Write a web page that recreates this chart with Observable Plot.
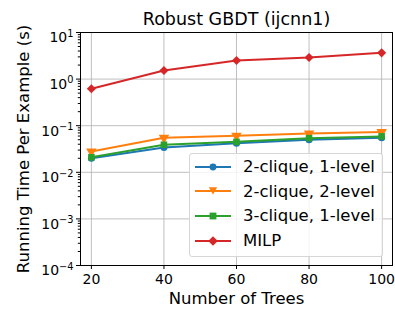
<!DOCTYPE html>
<html>
<head>
<meta charset="utf-8">
<script src="https://cdn.jsdelivr.net/npm/d3@7"></script>
<script src="https://cdn.jsdelivr.net/npm/@observablehq/plot@0.6"></script>
<style>
  body { margin: 0; background: #fff; }
  #wrap { position: relative; width: 395px; height: 310px; font-family: "DejaVu Sans", sans-serif; }
  #legend { position: absolute; left: 189px; top: 153px; width: 194px; height: 104px;
    background: rgba(255,255,255,0.8); border: 1px solid #d6d6d6; border-radius: 3px; box-sizing: border-box; }
  .row { position: absolute; left: 0; height: 20px; display: flex; align-items: center; font-size: 16.5px; color: #000; white-space: nowrap; }
  .row svg { margin-left: 5px; margin-right: 12px; flex: none; }
</style>
</head>
<body>
<div id="wrap"><div id="legend"></div></div>
<script>
const trees = [20, 40, 60, 80, 100];
const seriesNames = ["2-clique, 1-level", "2-clique, 2-level", "3-clique, 1-level", "MILP"];
const clique2Level1 = [0.020, 0.034, 0.042, 0.050, 0.055];
const clique2Level2 = [0.028, 0.055, 0.061, 0.068, 0.073];
const clique3Level1 = [0.021, 0.039, 0.045, 0.054, 0.059];
const milp = [0.62, 1.53, 2.5, 2.9, 3.66];
const yMajorTicks = [1e-4, 1e-3, 1e-2, 1e-1, 1, 10];
const yTickBase = "10";
const yTickExponents = ["\u22124", "\u22123", "\u22122", "\u22121", "0", "1"];
const title = "Robust GBDT (ijcnn1)";
const xLabel = "Number of Trees";
const yLabel = "Running Time Per Example (s)";

const colors = ["#1f77b4", "#ff7f0e", "#2ca02c", "#d62728"];
const symbols = ["circle", "triangle", "square", "diamond2"];
const rotates = [0, 180, 0, 0];
const radii = [3.5, 3.9, 3.7, 4.1];
const allValues = [clique2Level1, clique2Level2, clique3Level1, milp];

const data = [];
seriesNames.forEach((s, i) => trees.forEach((t, j) => data.push({series: s, trees: t, time: allValues[i][j]})));

const minorTicks = [];
for (let e = -4; e < 1; e++) for (let k = 2; k <= 9; k++) minorTicks.push(k * Math.pow(10, e));

const marks = [
  Plot.gridX(trees, {stroke: "#b0b0b0", strokeOpacity: 1, strokeWidth: 0.8}),
  Plot.gridY(yMajorTicks, {stroke: "#b0b0b0", strokeOpacity: 1, strokeWidth: 0.8}),
  Plot.axisY(minorTicks, {tickSize: 2.2, tickFormat: () => "", label: null, stroke: "#000"}),
  Plot.axisY(yMajorTicks, {tickSize: 4, tickPadding: 3, tickFormat: (d) => yTickExponents[yMajorTicks.indexOf(d)],
    label: null, fontSize: 14, stroke: "#000", fill: "#000"}),
  Plot.axisX(trees, {tickSize: 4, tickPadding: 5, label: null, fontSize: 14, stroke: "#000", fill: "#000"})
];
seriesNames.forEach((s, i) => {
  const d = data.filter(r => r.series === s);
  marks.push(Plot.line(d, {x: "trees", y: "time", stroke: colors[i], strokeWidth: 2}));
  marks.push(Plot.dot(d, {x: "trees", y: "time", fill: colors[i], stroke: "none", symbol: symbols[i], r: radii[i], rotate: rotates[i]}));
});
marks.push(Plot.frame({stroke: "#000", strokeWidth: 1}));
marks.push(Plot.text([title], {frameAnchor: "top", dy: -12.8, fontSize: 17.5, fill: "#000", lineAnchor: "middle"}));
marks.push(Plot.text([xLabel], {frameAnchor: "bottom", dy: 33.5, fontSize: 16.5, fill: "#000", lineAnchor: "middle"}));
marks.push(Plot.text([yLabel], {frameAnchor: "left", dx: -56.5, rotate: -90, fontSize: 16.5, fill: "#000", textAnchor: "middle", lineAnchor: "middle"}));

const chart = Plot.plot({
  width: 395, height: 310,
  marginTop: 32, marginBottom: 45, marginLeft: 80, marginRight: 3,
  style: {fontFamily: "DejaVu Sans, sans-serif", fontSize: "14px", color: "#000", background: "#fff", overflow: "visible"},
  x: {domain: [17, 103]},
  y: {type: "log", domain: [1e-4, 10]},
  marks
});
const wrap = document.getElementById("wrap");
wrap.insertBefore(chart, wrap.firstChild);

// y tick labels as 10 with a superscript exponent
d3.select(chart).selectAll('g[aria-label="y-axis tick label"] text').each(function () {
  const t = d3.select(this);
  const exp = t.text();
  if (!exp) return;
  t.text(null).attr("dy", "0.38em");
  t.append("tspan").text(yTickBase);
  t.append("tspan").attr("dy", "-5.6").attr("font-size", "9.8px").text(exp);
});

const legend = document.getElementById("legend");
const symPaths = {
  circle: '<circle cx="18" cy="10" r="3.4"/>',
  triangle: '<path d="M13.8,6.2 L22.2,6.2 L18,13.6 Z"/>',
  square: '<rect x="14.6" y="6.6" width="6.8" height="6.8"/>',
  diamond2: '<path d="M18,5.2 L22.8,10 L18,14.8 L13.2,10 Z"/>'
};
seriesNames.forEach((s, i) => {
  const row = document.createElement("div");
  row.className = "row";
  row.style.top = (2.7 + i * 24.6) + "px";
  row.innerHTML = `<svg width="36" height="20"><line x1="0" x2="36" y1="10" y2="10" stroke="${colors[i]}" stroke-width="2"/><g fill="${colors[i]}">${symPaths[symbols[i]]}</g></svg><span>${s}</span>`;
  legend.appendChild(row);
});
</script>
</body>
</html>
